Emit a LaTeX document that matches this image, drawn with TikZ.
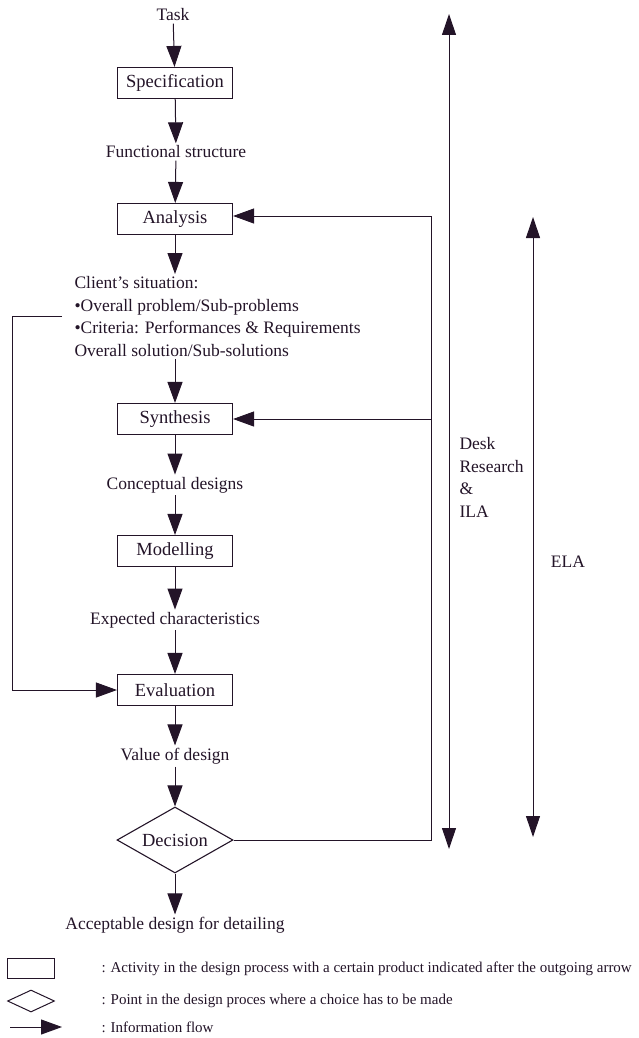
\documentclass[tikz,border=0pt]{standalone}
\usepackage{fontspec}
\setmainfont{Liberation Serif}
\usetikzlibrary{arrows.meta,shapes.geometric}
\definecolor{ink}{RGB}{35,20,40}
\begin{document}
\begin{tikzpicture}[x=1pt,y=-1pt,line width=1pt,draw=ink,
  txt/.style={inner sep=2pt,text=ink,font=\fontsize{17.5}{22.6}\selectfont},
  activity/.style={draw=ink,line width=1.1pt,minimum width=115pt,minimum height=31pt,inner sep=0pt,text=ink,font=\fontsize{18.5}{20}\selectfont},
  decision/.style={draw=ink,line width=1.1pt,diamond,aspect=1.76,minimum width=116pt,minimum height=66pt,inner sep=0pt,text=ink,font=\fontsize{18.5}{20}\selectfont},
  flow/.style={-{Triangle[length=21pt,width=15pt]}},
  both/.style={{Triangle[length=21pt,width=14pt]}-{Triangle[length=21pt,width=14pt]}},
  legtxt/.style={inner sep=0pt,anchor=west,text=ink,font=\fontsize{15}{17}\selectfont}]
\useasboundingbox (0,0) rectangle (639,1038);

% main chain of activities and products
\node[txt] (task) at (173,15) {Task};
\node[activity] (spec) at (175,83) {Specification};
\node[txt] (func) at (176,152) {Functional structure};
\node[activity] (ana) at (175,219) {Analysis};
\node[txt,align=left,anchor=north west] (client) at (72,274)
  {Client’s situation:\\•Overall problem/Sub-problems\\•Criteria: Performances \& Requirements\\Overall solution/Sub-solutions};
\node[activity] (syn) at (175,419) {Synthesis};
\node[txt] (concept) at (175,485) {Conceptual designs};
\node[activity] (model) at (175,551) {Modelling};
\node[txt] (expect) at (175,620) {Expected characteristics};
\node[activity] (eval) at (175,690) {Evaluation};
\node[txt] (value) at (175,756) {Value of design};
\node[decision] (dec) at (175,840) {Decision};
\node[txt] (accept) at (175,925) {Acceptable design for detailing};

\draw[flow] (task) -- (spec);
\draw[flow] (spec) -- (func);
\draw[flow] (func) -- (ana);
\draw[flow] (ana.south) -- (ana.south |- client.north);
\draw[flow] (syn.north |- client.south) -- (syn.north);
\draw[flow] (syn) -- (concept);
\draw[flow] (concept) -- (model);
\draw[flow] (model) -- (expect);
\draw[flow] (expect) -- (eval);
\draw[flow] (eval) -- (value);
\draw[flow] (value) -- (dec);
\draw[flow] (dec) -- (accept);

% criteria fed to evaluation
\coordinate (crit) at (62,316);
\coordinate (critcorner) at (12,316);
\draw[flow] (crit) -- (critcorner) |- (eval.west);

% feedback loop from decision
\coordinate (loop) at (431,216);
\draw (dec.east) -| (loop);
\draw[flow] (loop) -- (ana.east |- loop);
\draw[flow] (syn.east -| loop) -- (syn.east);

% ranges of the research activities
\coordinate (dtop) at (449,14);
\coordinate (dbot) at (449,849);
\draw[both] (dtop) -- (dbot);
\node[txt,align=left,anchor=north west] (dlabel) at (457,435) {Desk\\Research\\\&\\ILA};
\coordinate (etop) at (533,217);
\coordinate (ebot) at (533,837);
\draw[both] (etop) -- (ebot);
\node[txt] (ela) at (568,562) {ELA};

% legend
\node[draw=ink,minimum width=47pt,minimum height=20pt,inner sep=0pt] (lrect) at (31,968) {};
\node[legtxt] (lrecttxt) at (101,969) {: Activity in the design process with a certain product indicated after the outgoing arrow};
\node[draw=ink,diamond,aspect=2.1,minimum width=47pt,minimum height=22pt,inner sep=0pt] (ldia) at (31,1001) {};
\node[legtxt] (ldiatxt) at (101,1001) {: Point in the design proces where a choice has to be made};
\coordinate (la1) at (10,1027);
\coordinate (la2) at (62,1027);
\draw[flow] (la1) -- (la2);
\node[legtxt] (larrtxt) at (101,1027) {: Information flow};
\end{tikzpicture}
\end{document}
